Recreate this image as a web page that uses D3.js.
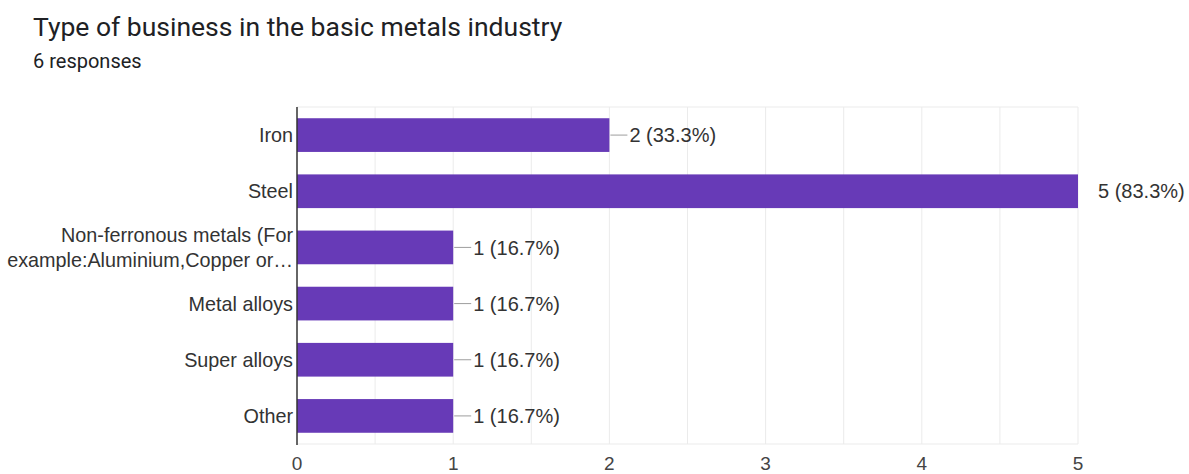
<!DOCTYPE html>
<html>
<head>
<meta charset="utf-8">
<script src="https://cdn.jsdelivr.net/npm/d3@7"></script>
<style>
  body { margin: 0; background: #fff; }
  text { font-family: Roboto, "Noto Sans", sans-serif; }
  .lbl { font-family: "Liberation Sans", Arial, sans-serif; }
</style>
</head>
<body>
<div class="board"></div>
<script>
var width = 1189;
var height = 474;

// chart data
var categories = ["Iron", "Steel", "Non-ferronous metals (For|example:Aluminium,Copper or…", "Metal alloys", "Super alloys", "Other"];
var counts = [2, 5, 1, 1, 1, 1];
var percents = ["33.3%", "83.3%", "16.7%", "16.7%", "16.7%", "16.7%"];
var xTicks = [0, 1, 2, 3, 4, 5];

var margin = {top: 107, left: 297, right: 111, bottom: 30};
var plotW = width - margin.left - margin.right;
var plotH = 444 - margin.top;

var svg = d3.select(".board").append("svg")
  .attr("width", width)
  .attr("height", height);

svg.append("text")
  .attr("x", 33).attr("y", 36)
  .attr("font-size", 26.5)
  .attr("fill", "#202124")
  .text("Type of business in the basic metals industry");

svg.append("text")
  .attr("x", 33).attr("y", 68)
  .attr("font-size", 20)
  .attr("fill", "#202124")
  .text("6 responses");

var x = d3.scaleLinear().domain([0, 5]).range([0, plotW]);
var y = d3.scaleBand().domain(d3.range(categories.length)).range([0, plotH]).paddingInner(0.4).paddingOuter(0.2);

var g = svg.append("g").attr("transform", "translate(" + margin.left + "," + margin.top + ")");

// grid lines, every half unit
g.selectAll(".grid").data(d3.range(0.5, 5.01, 0.5)).enter().append("line")
  .attr("x1", function(d){ return x(d); })
  .attr("x2", function(d){ return x(d); })
  .attr("y1", 0).attr("y2", plotH)
  .attr("stroke", "#ebebeb");

g.append("line").attr("x1", 0).attr("x2", plotW).attr("y1", 0).attr("y2", 0).attr("stroke", "#ebebeb");
g.append("line").attr("x1", 0).attr("x2", plotW).attr("y1", plotH).attr("y2", plotH).attr("stroke", "#ebebeb");

// bars
g.selectAll(".bar").data(counts).enter().append("rect")
  .attr("x", 0)
  .attr("y", function(d, i){ return y(i); })
  .attr("width", function(d){ return x(d); })
  .attr("height", y.bandwidth())
  .attr("fill", "#673ab7");

// leader lines + value labels
g.selectAll(".lead").data(counts).enter().append("line")
  .attr("x1", function(d){ return x(d) + 1; })
  .attr("x2", function(d){ return x(d) + 18; })
  .attr("y1", function(d, i){ return y(i) + y.bandwidth() / 2; })
  .attr("y2", function(d, i){ return y(i) + y.bandwidth() / 2; })
  .attr("stroke", function(d){ return d < 5 ? "#9e9e9e" : "none"; });

g.selectAll(".val").data(counts).enter().append("text")
  .attr("class", "lbl")
  .attr("x", function(d){ return x(d) + 20; })
  .attr("y", function(d, i){ return y(i) + y.bandwidth() / 2; })
  .attr("dy", "0.36em")
  .attr("font-size", 20)
  .attr("fill", "#333")
  .text(function(d, i){ return d + " (" + percents[i] + ")"; });

// category labels
var cat = g.selectAll(".cat").data(categories).enter().append("text")
  .attr("class", "lbl")
  .attr("text-anchor", "end")
  .attr("font-size", 19.8)
  .attr("fill", "#333")
  .attr("transform", function(d, i){ return "translate(-4," + (y(i) + y.bandwidth() / 2) + ")"; });

cat.each(function(d){
  var lines = d.split("|");
  var t = d3.select(this);
  lines.forEach(function(l, j){
    t.append("tspan").attr("x", 0)
      .attr("y", (j - (lines.length - 1) / 2) * 25)
      .attr("dy", "0.36em")
      .text(l);
  });
});

// axis line
g.append("line").attr("x1", 0).attr("x2", 0).attr("y1", 0).attr("y2", plotH + 1)
  .attr("stroke", "#333").attr("stroke-width", 1.5);

// x tick labels
g.selectAll(".tick").data(xTicks).enter().append("text")
  .attr("class", "lbl")
  .attr("x", function(d){ return x(d); })
  .attr("y", plotH + 26)
  .attr("text-anchor", "middle")
  .attr("font-size", 19)
  .attr("fill", "#444")
  .text(function(d){ return d; });
</script>
</body>
</html>
